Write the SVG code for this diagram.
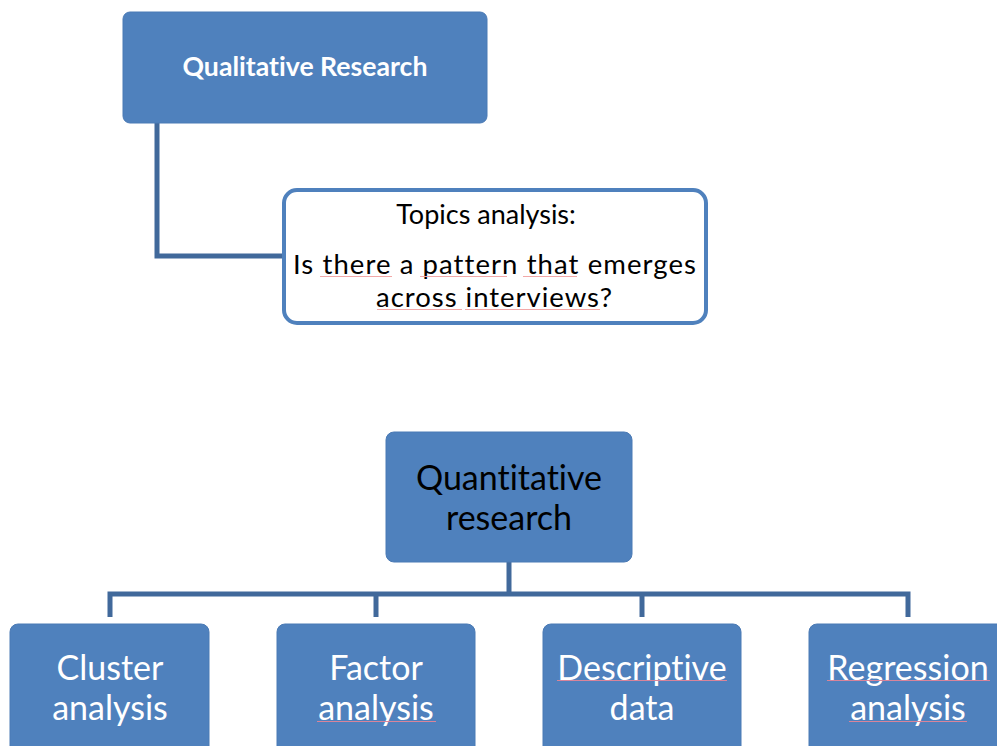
<svg xmlns="http://www.w3.org/2000/svg" width="997" height="746" viewBox="0 0 997 746">
  <style>
    .fill { fill: #4F81BD; stroke: #4A7AB5; stroke-width: 1; }
    .outline { fill: #FFFFFF; stroke: #4F81BD; stroke-width: 4; }
    .link { fill: none; stroke: #41699B; stroke-width: 5; }
    .t { font-family: Lato, "Open Sans", "Liberation Sans", sans-serif; text-anchor: middle; font-variant-ligatures: none; }
    .white { fill: #FFFFFF; }
    .dark { fill: #000000; }
    .squiggle { fill: none; stroke: #F2A8A8; stroke-width: 1; }
    .squiggle-on-blue { fill: none; stroke: #D9849A; stroke-width: 1; }
  </style>

  <!-- connectors -->
  <g id="connectors">
    <polyline class="link" points="157,123 157,256 284,256"/>
    <line class="link" x1="509" y1="562" x2="509" y2="594"/>
    <polyline class="link" points="110,617 110,594 908,594 908,617"/>
    <line class="link" x1="376" y1="594" x2="376" y2="617"/>
    <line class="link" x1="642" y1="594" x2="642" y2="617"/>
  </g>

  <g id="qualitative">
    <rect class="fill" x="123" y="12" width="364" height="111" rx="7"/>
    <text class="t white" x="305" y="76" font-size="26" font-weight="bold" textLength="245" lengthAdjust="spacingAndGlyphs">Qualitative Research</text>
  </g>

  <g id="topics">
    <rect class="outline" x="284" y="190" width="422" height="133" rx="13"/>
    <text class="t dark" x="486" y="224" font-size="27">Topics analysis:</text>
    <text class="t dark" x="494.5" y="274" font-size="27.5" textLength="403" lengthAdjust="spacing">Is there a pattern that emerges</text>
    <text class="t dark" x="494" y="307" font-size="27.5" textLength="236" lengthAdjust="spacing">across interviews?</text>
    <!-- spell-check underlines -->
    <path class="squiggle" d="M320,276.5 H392 M420,276.5 H507 M523,276.5 H577 M377,309.5 H462 M465,309.5 H600"/>
  </g>

  <g id="quantitative">
    <rect class="fill" x="386" y="432" width="246" height="130" rx="8"/>
    <text class="t dark" x="509" y="490" font-size="34">Quantitative</text>
    <text class="t dark" x="509" y="530" font-size="34">research</text>
  </g>

  <g id="cluster">
    <rect class="fill" x="10" y="624" width="199" height="140" rx="8"/>
    <text class="t white" x="110" y="680" font-size="34">Cluster</text>
    <text class="t white" x="110" y="720" font-size="34">analysis</text>
  </g>

  <g id="factor">
    <rect class="fill" x="277" y="624" width="198" height="140" rx="8"/>
    <text class="t white" x="376" y="680" font-size="34">Factor</text>
    <text class="t white" x="376" y="720" font-size="34">analysis</text>
    <path class="squiggle-on-blue" d="M317,721.5 H436"/>
  </g>

  <g id="descriptive">
    <rect class="fill" x="543" y="624" width="198" height="140" rx="8"/>
    <text class="t white" x="642" y="680" font-size="34">Descriptive</text>
    <text class="t white" x="642" y="720" font-size="34">data</text>
    <path class="squiggle-on-blue" d="M557,680.5 H727"/>
  </g>

  <g id="regression">
    <rect class="fill" x="809" y="624" width="199" height="140" rx="8"/>
    <text class="t white" x="908" y="680" font-size="34">Regression</text>
    <text class="t white" x="908" y="720" font-size="34">analysis</text>
    <path class="squiggle-on-blue" d="M827,680.5 H990 M849,721.5 H967"/>
  </g>
</svg>
